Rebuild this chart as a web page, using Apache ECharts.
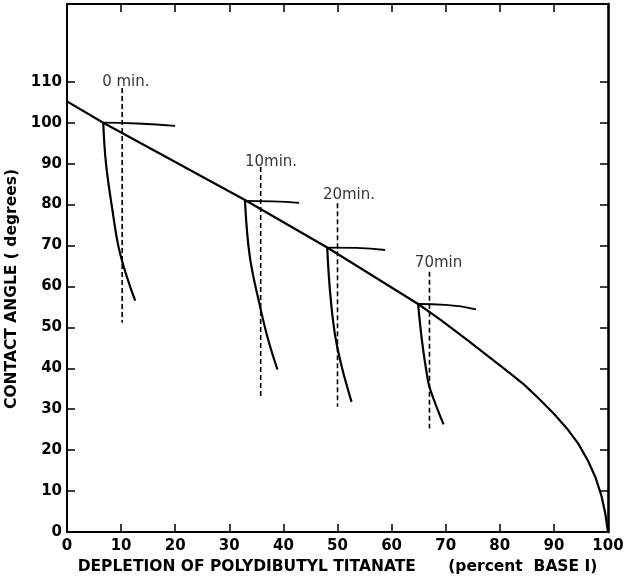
<!DOCTYPE html>
<html>
<head>
<meta charset="utf-8">
<script src="https://cdn.jsdelivr.net/npm/echarts@6/dist/echarts.min.js"></script>
<style>
  html, body { margin: 0; padding: 0; background: #fff; }
  #chart { width: 626px; height: 579px; }
</style>
</head>
<body>
<div id="chart"></div>
<script>
// tick values
const xLabels = [0, 10, 20, 30, 40, 50, 60, 70, 80, 90, 100];
const xInnerTicks = [10, 20, 30, 40, 50, 60, 70, 80, 90];
const yLabels = [0, 10, 20, 30, 40, 50, 60, 70, 80, 90, 100, 110];
const yInnerTicks = [10, 20, 30, 40, 50, 60, 70, 80, 90, 100, 110];

// main contact angle vs depletion curve
const mainCurve = [[0, 105.2], [6.7, 100], [32.9, 81.1], [48.1, 69.5], [64.9, 55.7],
  [69, 51.9], [73.9, 47], [78, 42.8], [81.5, 39.2], [84.5, 36], [87.2, 32.6],
  [90, 28.9], [92.4, 25.3], [94.5, 21.6], [96.3, 17.4], [97.7, 13.3], [98.8, 8.8],
  [99.5, 4.5], [100, 0]];

// time labels
const times = ['0 min.', '10min.', '20min.', '70min'];
const timeLabelAt = [[6.5, 110], [32.9, 90.4], [47.3, 82.3], [64.3, 65.6]];

// falling branches
const dropCurves = [
  [[6.7, 100], [7.2, 90.1], [8.3, 79.5], [9.8, 68.1], [12.6, 56.5]],
  [[32.9, 80.9], [33.8, 67.2], [35.7, 55], [37.2, 46.9], [38.9, 39.7]],
  [[48.1, 69.5], [48.6, 59.1], [49.5, 48.5], [50.8, 40.3], [52.6, 31.8]],
  [[64.9, 55.7], [65.6, 46.9], [66.5, 38.7], [67.1, 35], [69.6, 26.3]]
];
// near-horizontal branches
const flatCurves = [
  [[6.7, 100], [13, 99.8], [20, 99.2]],
  [[32.9, 80.9], [38, 80.8], [42.9, 80.4]],
  [[48.1, 69.5], [53.5, 69.4], [58.8, 68.9]],
  [[64.9, 55.7], [70, 55.5], [75.6, 54.4]]
];
// dashed verticals
const dashX = [10.2, 35.8, 50, 67];
const dashTop = [108.5, 89.2, 80.3, 63.6];
const dashBottom = [51.1, 33, 30.6, 25.3];

const font = 'DejaVu Sans';
const lineBase = { type: 'line', symbol: 'none', silent: true, xAxisIndex: 0, yAxisIndex: 0 };

const series = [];
series.push(Object.assign({}, lineBase, {
  data: mainCurve, smooth: false,
  lineStyle: { color: '#000', width: 2.2, join: 'round' }
}));
dropCurves.forEach((d) => {
  series.push(Object.assign({}, lineBase, { data: d, smooth: 0.4, lineStyle: { color: '#000', width: 2.2 } }));
});
flatCurves.forEach((d) => {
  series.push(Object.assign({}, lineBase, { data: d, smooth: true, lineStyle: { color: '#000', width: 1.8 } }));
});
dashX.forEach((x, i) => {
  series.push(Object.assign({}, lineBase, {
    data: [[x, dashTop[i]], [x, dashBottom[i]]],
    lineStyle: { color: '#000', width: 1.6, type: [5, 3] }
  }));
});
series.push({
  type: 'scatter', symbolSize: 0, silent: true,
  data: timeLabelAt.map((p, i) => ({ value: p, name: times[i] })),
  label: {
    show: true, position: 'right', distance: 0,
    formatter: (p) => p.name,
    color: '#000', fontFamily: font, fontSize: 15
  }
});

const tickStyle = { color: '#000', width: 1.5 };
const labelStyle = { color: '#000', fontFamily: font, fontSize: 15, fontWeight: 'bold' };

const chart = echarts.init(document.getElementById('chart'));
chart.setOption({
  animation: false,
  backgroundColor: '#fff',
  grid: { left: 67, right: 18, top: 4, bottom: 47, outerBoundsMode: 'none', containLabel: false },
  xAxis: [{
    type: 'value', min: 0, max: 100, interval: 10,
    name: 'DEPLETION OF POLYDIBUTYL TITANATE      (percent  BASE I)',
    nameLocation: 'middle', nameGap: 27,
    nameTextStyle: { color: '#000', fontFamily: font, fontSize: 15.5, fontWeight: 'bold' },
    axisLine: { onZero: false, lineStyle: { color: '#000', width: 2 } },
    axisTick: { inside: true, length: 8, customValues: xInnerTicks, lineStyle: tickStyle },
    axisLabel: Object.assign({ customValues: xLabels, margin: 7 }, labelStyle),
    splitLine: { show: false }
  }, {
    type: 'value', min: 0, max: 100, interval: 10, position: 'top',
    axisLine: { show: true, onZero: false, lineStyle: { color: '#000', width: 2 } },
    axisTick: { show: true, inside: true, length: 8, customValues: xInnerTicks, lineStyle: tickStyle },
    axisLabel: { show: false },
    splitLine: { show: false }
  }],
  yAxis: [{
    type: 'value', min: 0, max: 129, interval: 10,
    name: 'CONTACT ANGLE ( degrees)',
    nameLocation: 'middle', nameGap: 43,
    nameTextStyle: { color: '#000', fontFamily: font, fontSize: 15.5, fontWeight: 'bold', padding: [0, 42, 0, 0] },
    axisLine: { show: true, onZero: false, lineStyle: { color: '#000', width: 2 } },
    axisTick: { show: true, inside: true, length: 8, customValues: yInnerTicks, lineStyle: tickStyle },
    axisLabel: Object.assign({ customValues: yLabels, margin: 5 }, labelStyle),
    splitLine: { show: false }
  }, {
    type: 'value', min: 0, max: 129, interval: 10, position: 'right',
    axisLine: { show: true, onZero: false, lineStyle: { color: '#000', width: 2.6 } },
    axisTick: { show: true, inside: true, length: 8, customValues: yInnerTicks, lineStyle: tickStyle },
    axisLabel: { show: false },
    splitLine: { show: false }
  }],
  series: series
});
</script>
</body>
</html>
